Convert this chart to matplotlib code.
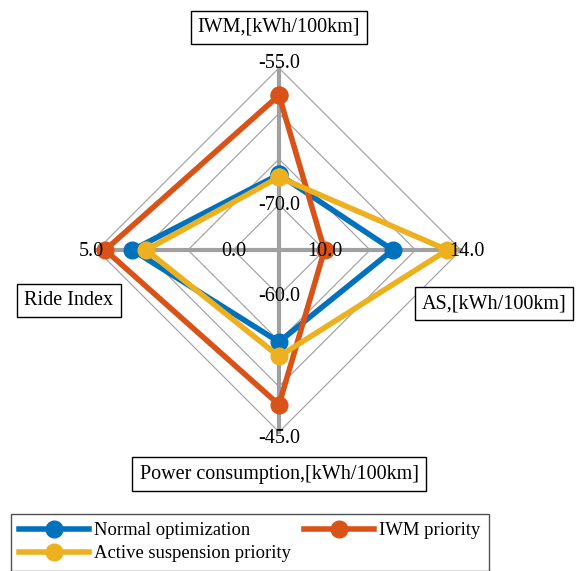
import numpy as np
import matplotlib
matplotlib.use("Agg")
import matplotlib.pyplot as plt
from matplotlib.lines import Line2D

plt.rcParams["font.family"] = ["Liberation Serif", "DejaVu Serif"]

# Axes of the spider plot, clockwise from the top
axis_labels = ["IWM,[kWh/100km]", "AS,[kWh/100km]",
               "Power consumption,[kWh/100km]", "Ride Index"]
axis_min = [-70.0, 10.0, -60.0, 0.0]
axis_max = [-55.0, 14.0, -45.0, 5.0]

series_names = ["Normal optimization", "IWM priority", "Active suspension priority"]
normal_opt = [-66.7, 12.0, -54.9, 3.7]
iwm_priority = [-58.0, 10.0, -48.0, 4.7]
as_priority = [-67.0, 13.6, -53.3, 3.2]
series_colors = ["#0072BD", "#D95319", "#EDB120"]

angles = np.deg2rad([90, 0, -90, 180])
ring_fracs = [0.25, 0.5, 0.75, 1.0]

W, H, DPI = 586, 571, 100
cx, cy, R = 279, 250, 182  # centre and outer radius in pixels

fig = plt.figure(figsize=(W / DPI, H / DPI), dpi=DPI)
ax = fig.add_axes([0, 0, 1, 1])
ax.set_xlim(-cx / R, (W - cx) / R)
ax.set_ylim(-(H - cy) / R, cy / R)
ax.axis("off")


def to_xy(values):
    v = np.asarray(values, float)
    lo = np.asarray(axis_min)
    hi = np.asarray(axis_max)
    r = ring_fracs[0] + (1 - ring_fracs[0]) * (v - lo) / (hi - lo)
    return r * np.cos(angles), r * np.sin(angles)


# web rings
for f in ring_fracs:
    xs = np.append(f * np.cos(angles), f * np.cos(angles[0]))
    ys = np.append(f * np.sin(angles), f * np.sin(angles[0]))
    ax.plot(xs, ys, color="#a6a6a6", lw=0.9, zorder=1)

# spokes
for a in angles:
    ax.plot([0, np.cos(a)], [0, np.sin(a)], color="#a0a0a0", lw=3.0, zorder=2)

# series
for vals, col, name in zip([normal_opt, iwm_priority, as_priority], series_colors, series_names):
    x, y = to_xy(vals)
    ax.plot(np.append(x, x[0]), np.append(y, y[0]), color=col, lw=4,
            marker="o", ms=12, zorder=3, label=name)

fs = 14.5
# tick labels at the inner and outer rings
for a, lo, hi in zip(angles, axis_min, axis_max):
    f0 = ring_fracs[0]
    ax.text(f0 * np.cos(a), f0 * np.sin(a) - 0.008, f"{lo:.1f}", ha="center", va="center",
            fontsize=fs, zorder=4)
    ox, oy = np.cos(a), np.sin(a)
    ox += 0.032 * np.round(np.cos(a))
    oy += 0.03 * np.round(np.sin(a)) - 0.008
    ax.text(ox, oy, f"{hi:.1f}", ha="center", va="center", fontsize=fs, zorder=4)

# axis titles in boxes
title_pos = [(0.0, 1.231), (1.181, -0.288), (0.0, -1.225), (-1.154, -0.272)]
box = dict(boxstyle="square,pad=0.35", fc="white", ec="black", lw=1.0)
for lab, (tx, ty) in zip(axis_labels, title_pos):
    ax.text(tx, ty - 0.006, lab, ha="center", va="center", fontsize=fs, bbox=box, zorder=5)

handles = [Line2D([], [], color=c, lw=4, marker="o", ms=12) for c in series_colors]
order = [0, 2, 1]
leg = fig.legend([handles[i] for i in order], [series_names[i] for i in order],
                 ncol=2, loc="upper left", bbox_to_anchor=(11 / W, 1 - 514 / H),
                 borderaxespad=0, frameon=True, fancybox=False, fontsize=13.4,
                 handlelength=3.76, handletextpad=0.27, columnspacing=0.7,
                 labelspacing=0.32, borderpad=0.45)
leg.get_frame().set_edgecolor("#262626")
leg.get_frame().set_linewidth(1.0)

fig.savefig("out.png", dpi=DPI)
